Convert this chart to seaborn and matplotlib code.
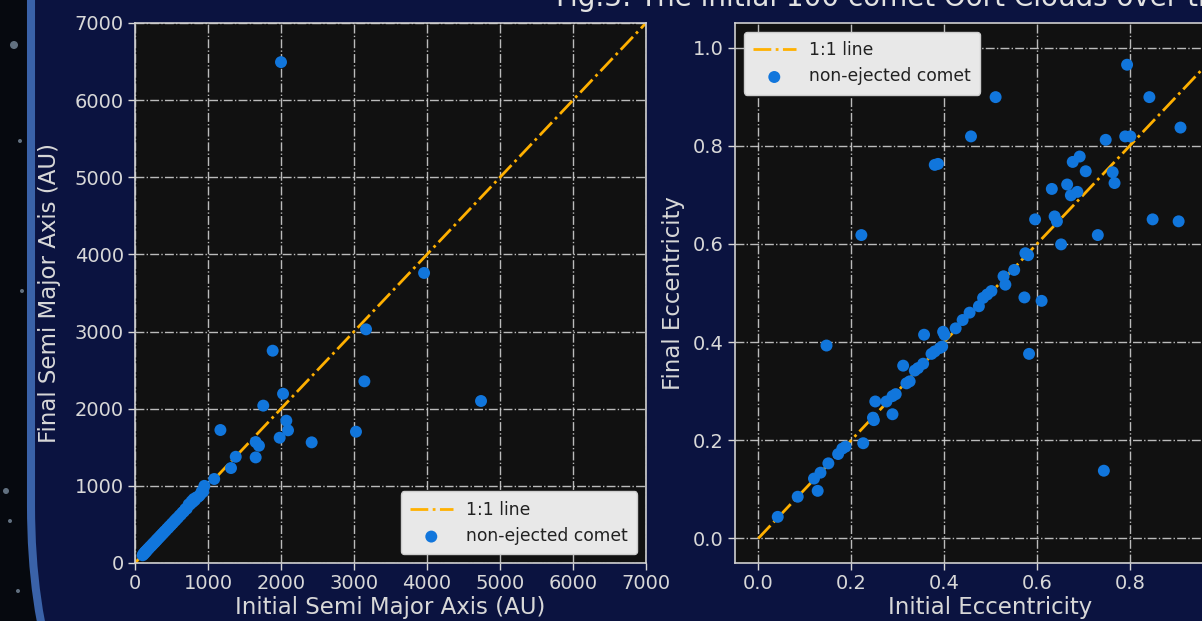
import matplotlib
matplotlib.use("Agg")
import matplotlib.pyplot as plt
import matplotlib.patches as mpatches
import matplotlib.transforms as mtransforms
import seaborn as sns
import pandas as pd

# ---------------- data ----------------
a_init = [105, 115, 125, 135, 145, 150, 160, 170, 180, 190, 200, 210, 225, 235, 250,
          260, 275, 290, 300, 315, 330, 345, 360, 375, 390, 405, 420, 440, 455, 470,
          490, 505, 520, 540, 555, 570, 590, 610, 630, 650, 670, 690, 710, 735, 755,
          775, 790, 805, 820, 840, 860, 880, 900, 915, 935, 950,
          1085, 1170, 1315, 1380, 1653, 1698, 1653, 1757, 1886, 1982, 2000, 2028,
          2073, 2096, 2420, 3027, 3142, 3165, 3960, 4740]
a_final = [100, 118, 120, 140, 140, 155, 158, 175, 178, 195, 200, 215, 222, 240, 248,
           265, 272, 295, 298, 320, 328, 350, 358, 380, 388, 410, 418, 445, 452, 475,
           488, 510, 518, 545, 553, 575, 588, 615, 628, 655, 668, 700, 705, 760, 760,
           800, 790, 830, 815, 850, 855, 870, 895, 930, 925, 1000,
           1089, 1724, 1231, 1377, 1568, 1520, 1369, 2040, 2752, 1624, 6493, 2194,
           1845, 1720, 1564, 1702, 2355, 3029, 3760, 2100]

e_init = [0.042, 0.085, 0.128, 0.120, 0.134, 0.151, 0.147, 0.172, 0.181, 0.188, 0.226,
          0.222, 0.249, 0.247, 0.252, 0.276, 0.289, 0.296, 0.289, 0.312, 0.319, 0.326,
          0.337, 0.344, 0.355, 0.357, 0.373, 0.380, 0.391, 0.398, 0.401, 0.396, 0.380,
          0.387, 0.458, 0.511, 0.794, 0.842, 0.909, 0.748, 0.790, 0.801, 0.677, 0.692,
          0.705, 0.763, 0.767, 0.632, 0.665, 0.673, 0.687, 0.596, 0.638, 0.643, 0.849,
          0.905, 0.731, 0.652, 0.575, 0.581, 0.551, 0.528, 0.532, 0.502, 0.493, 0.484,
          0.475, 0.573, 0.610, 0.583, 0.744, 0.425, 0.440, 0.455]
e_final = [0.044, 0.085, 0.097, 0.122, 0.134, 0.153, 0.393, 0.172, 0.183, 0.187, 0.194,
           0.618, 0.241, 0.246, 0.279, 0.279, 0.290, 0.294, 0.253, 0.352, 0.316, 0.320,
           0.342, 0.347, 0.356, 0.415, 0.376, 0.381, 0.388, 0.421, 0.415, 0.391, 0.761,
           0.763, 0.819, 0.899, 0.965, 0.899, 0.837, 0.812, 0.819, 0.819, 0.767, 0.778,
           0.748, 0.746, 0.724, 0.712, 0.721, 0.699, 0.706, 0.650, 0.656, 0.646, 0.650,
           0.646, 0.618, 0.599, 0.581, 0.577, 0.547, 0.534, 0.517, 0.504, 0.497, 0.490,
           0.473, 0.491, 0.484, 0.376, 0.138, 0.428, 0.445, 0.460]

line_a = [0, 7000]
line_e = [0, 1]

a_ticks = [0, 1000, 2000, 3000, 4000, 5000, 6000, 7000]
e_ticks = [0.0, 0.2, 0.4, 0.6, 0.8, 1.0]

# ---------------- style ----------------
sns.set_theme(style="dark")
plt.rcParams["font.family"] = ["DejaVu Sans"]

NAVY = "#0b1340"
BORDER = "#3a62a8"
AXBG = "#111111"
TXT = "#d8d8d8"
DOT = "#1176dc"
ORANGE = "#ffb000"

W, H = 1202, 621
fig = plt.figure(figsize=(W / 100, H / 100), dpi=100)
fig.patch.set_facecolor("#06090f")

ident = mtransforms.IdentityTransform()
# faint stars on the dark strip
for (sx, sy, sr) in [(14, 576, 4), (20, 480, 2), (6, 130, 3), (22, 330, 2), (10, 100, 2), (18, 30, 2)]:
    fig.add_artist(mpatches.Circle((sx, sy), sr, transform=ident, facecolor="#9fb6cc",
                                   edgecolor="none", alpha=0.6))
panel = mpatches.FancyBboxPatch((31, -285), 2200, 2200,
                                boxstyle="round,pad=0,rounding_size=400",
                                transform=ident, facecolor=NAVY, edgecolor=BORDER,
                                linewidth=5.8, zorder=0)
fig.add_artist(panel)

fig.text(556 / W, 1 - 6.5 / H, "Fig.3: The initial 100 comet Oort Clouds over the",
         color="#e2e2e2", fontsize=20, ha="left", va="baseline")

axL = fig.add_axes([135 / W, 58 / H, 511 / W, 540 / H])
axR = fig.add_axes([735 / W, 58 / H, 511 / W, 540 / H])

dfA = pd.DataFrame({"init": a_init, "final": a_final})
dfE = pd.DataFrame({"init": e_init, "final": e_final})
dfLA = pd.DataFrame({"x": line_a, "y": line_a})
dfLE = pd.DataFrame({"x": line_e, "y": line_e})

for ax, df, dl in [(axL, dfA, dfLA), (axR, dfE, dfLE)]:
    ax.set_facecolor(AXBG)
    sns.lineplot(data=dl, x="x", y="y", ax=ax, color=ORANGE, linestyle="-.",
                 linewidth=2, label="1:1 line", zorder=2)
    sns.scatterplot(data=df, x="init", y="final", ax=ax, color=DOT, s=74,
                    edgecolor="none", label="non-ejected comet", zorder=3)
    ax.grid(True, color="#cfcfcf", linestyle="-.", linewidth=1, alpha=0.9)
    ax.set_axisbelow(True)
    for sp in ax.spines.values():
        sp.set_visible(True)
        sp.set_color("#cfcfcf")
        sp.set_linewidth(1.2)
    ax.tick_params(axis="both", colors=TXT, labelsize=14, length=5, width=1,
                   direction="out", bottom=True, left=True, pad=3)

axL.set_xlim(0, 7000)
axL.set_ylim(0, 7000)
axL.set_xticks(a_ticks)
axL.set_yticks(a_ticks)
axL.set_xlabel("Initial Semi Major Axis (AU)", color=TXT, fontsize=16.5, labelpad=2)
axL.set_ylabel("Final Semi Major Axis (AU)", color=TXT, fontsize=16.5, labelpad=10)

axR.set_xlim(-0.05, 1.05)
axR.set_ylim(-0.05, 1.05)
axR.set_xticks(e_ticks)
axR.set_yticks(e_ticks)
axR.set_xticklabels([f"{t:.1f}" for t in e_ticks])
axR.set_yticklabels([f"{t:.1f}" for t in e_ticks])
axR.set_xlabel("Initial Eccentricity", color=TXT, fontsize=16.5, labelpad=2)
axR.set_ylabel("Final Eccentricity", color=TXT, fontsize=16.5, labelpad=6)

for ax, loc in [(axL, "lower right"), (axR, "upper left")]:
    leg = ax.legend(loc=loc, fontsize=12.3, frameon=True, facecolor="#e8e8e8",
                    edgecolor="#cccccc", framealpha=1, fancybox=True,
                    borderpad=0.55, handlelength=2.5)
    for t in leg.get_texts():
        t.set_color("#222222")

fig.savefig("out.png", dpi=100, facecolor=fig.get_facecolor())
